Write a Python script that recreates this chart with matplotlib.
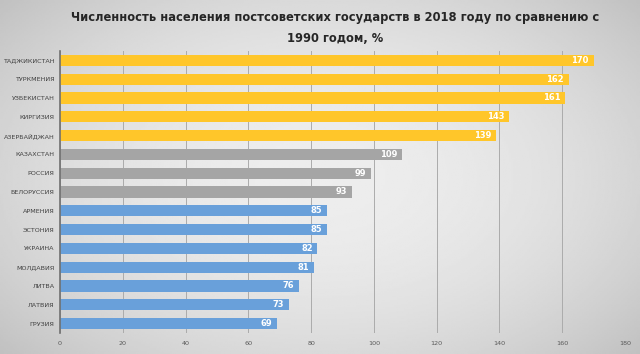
import numpy as np
import matplotlib.pyplot as plt

# --- ДАННЫЕ ---
страны = ['ТАДЖИКИСТАН', 'ТУРКМЕНИЯ', 'УЗБЕКИСТАН', 'КИРГИЗИЯ', 'АЗЕРБАЙДЖАН',
          'КАЗАХСТАН', 'РОССИЯ', 'БЕЛОРУССИЯ', 'АРМЕНИЯ', 'ЭСТОНИЯ',
          'УКРАИНА', 'МОЛДАВИЯ', 'ЛИТВА', 'ЛАТВИЯ', 'ГРУЗИЯ']
значения = [170, 162, 161, 143, 139, 109, 99, 93, 85, 85, 82, 81, 76, 73, 69]
группы = ['рост'] * 5 + ['средн'] * 3 + ['спад'] * 7
цвета_групп = {'рост': '#FFC62A', 'средн': '#A5A5A5', 'спад': '#69A0DA'}
метки_x = [0, 20, 40, 60, 80, 100, 120, 140, 160, 180]

заголовок = 'Численность населения постсоветских государств в 2018 году по сравнению с\n1990 годом, %'

fig = plt.figure(figsize=(6.4, 3.54), dpi=100)

# фон: радиальный градиент серого
фон = fig.add_axes([0, 0, 1, 1], zorder=-10)
yy, xx = np.mgrid[-1:1:200j, -1:1:360j]
r = np.sqrt((xx * 0.9) ** 2 + (yy * 0.8) ** 2)
фон.imshow(0.93 - 0.12 * r ** 2, cmap='gray', vmin=0, vmax=1, aspect='auto',
           extent=[0, 1, 0, 1])
фон.set_axis_off()

ax = fig.add_axes([60 / 640, 21 / 354, 565 / 640, 282 / 354])
ax.patch.set_alpha(0)

позиции = np.arange(len(страны))
цвета = [цвета_групп[g] for g in группы]
ax.barh(позиции, значения, height=0.6, color=цвета, zorder=3)

for y, v in zip(позиции, значения):
    ax.text(v - 1.5, y, str(v), ha='right', va='center', color='white',
            fontsize=6, fontweight='bold', zorder=4)

ax.set_xlim(0, 180)
ax.set_ylim(len(страны) - 0.5, -0.5)
ax.set_xticks(метки_x)
ax.set_yticks(позиции)
ax.set_yticklabels(страны)
ax.tick_params(axis='both', length=0, labelsize=4.6, colors='#404040')
ax.tick_params(axis='x', pad=6, colors='#595959')
ax.tick_params(axis='y', pad=4)
ax.grid(axis='x', color='#ABABAB', linewidth=0.7, zorder=0)
for s in ['top', 'right', 'bottom']:
    ax.spines[s].set_visible(False)
ax.spines['left'].set_color('#707070')
ax.spines['left'].set_linewidth(1.2)
ax.spines['left'].set_zorder(5)

fig.text(0.523, 0.921, заголовок, ha='center', va='center', fontsize=8.3,
         fontweight='bold', color='#262626', linespacing=1.75)

fig.savefig('out.png', dpi=100)
